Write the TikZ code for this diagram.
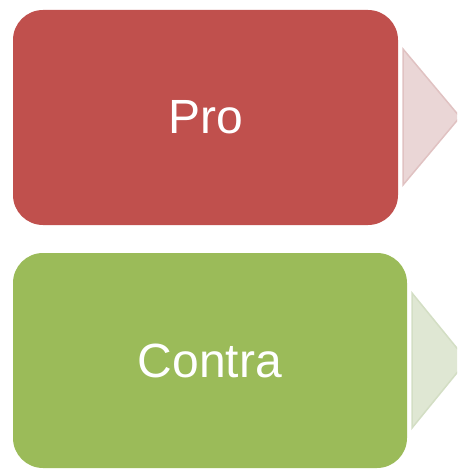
\documentclass[tikz,border=0pt]{standalone}
\usepackage{fontspec}
\setmainfont{Liberation Sans}
\definecolor{proRed}{HTML}{C0504D}
\definecolor{contraGreen}{HTML}{9BBB59}
\definecolor{paleRed}{HTML}{EAD6D6}
\definecolor{paleRedEdge}{HTML}{E0C2C2}
\definecolor{paleGreen}{HTML}{DFE7D3}
\definecolor{paleGreenEdge}{HTML}{D3DEC4}
\begin{document}
\begin{tikzpicture}[x=1pt,y=-1pt,
  label text/.style={text=white, font=\fontsize{48}{54}\selectfont},
  arrowtri/.style={line width=1.5pt, line join=miter}]
\useasboundingbox (0,0) rectangle (457,473);
\clip (0,0) rectangle (457,473);
\fill[proRed, rounded corners=30pt] (13,10) rectangle (398,225);
\node[label text] (pro) at (205.5,117.5) {Pro};
\fill[contraGreen, rounded corners=30pt] (13,253) rectangle (407,468);
\node[label text] (contra) at (210,360.5) {Contra};
\filldraw[arrowtri, fill=paleRed, draw=paleRedEdge] (403,49) -- (460,117) -- (403,185) -- cycle;
\filldraw[arrowtri, fill=paleGreen, draw=paleGreenEdge] (412,293) -- (467,360.5) -- (412,428) -- cycle;
\end{tikzpicture}
\end{document}
